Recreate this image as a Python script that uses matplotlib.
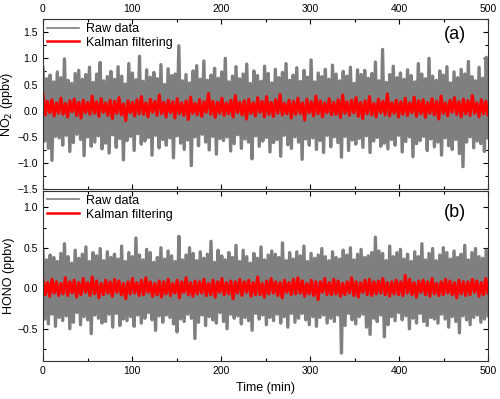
import numpy as np
import matplotlib
matplotlib.use("Agg")
import matplotlib.pyplot as plt
from matplotlib.ticker import MultipleLocator

plt.rcParams['font.family'] = ['Liberation Sans', 'DejaVu Sans']

no2_raw = [
    0.82, -0.58, 0.61, -0.72, 0.68, -0.95, 0.55, -0.49, 0.74, -0.52,
    0.63, -0.66, 0.99, -0.47, 0.58, -0.78, 0.52, -0.61, 0.71, -0.45,
    0.77, -0.55, 0.60, -0.86, 0.69, -0.50, 0.83, -0.68, 0.54, -0.60,
    0.70, -0.48, 0.92, -0.73, 0.57, -0.62, 0.65, -0.81, 0.75, -0.46,
    0.60, -0.70, 0.84, -0.53, 0.66, -0.94, 0.51, -0.57, 0.90, -0.49,
    0.72, -0.76, 0.59, -0.44, 1.04, -0.64, 0.56, -0.58, 0.78, -0.51,
    0.64, -0.85, 0.73, -0.47, 0.61, -0.71, 0.88, -0.55, 0.50, -0.66,
    0.80, -0.52, 0.67, -0.90, 0.70, -0.48, 1.24, -0.62, 0.57, -0.74,
    0.69, -0.56, 0.53, -1.05, 0.76, -0.50, 0.86, -0.67, 0.60, -0.45,
    0.95, -0.60, 0.58, -0.75, 0.68, -0.49, 0.81, -0.83, 0.62, -0.53,
    0.74, -0.57, 1.00, -0.50, 0.55, -0.77, 0.66, -0.63, 0.84, -0.46,
    0.61, -0.72, 0.70, -0.54, 0.89, -0.60, 0.52, -0.92, 0.76, -0.48,
    0.67, -0.68, 0.56, -0.58, 0.85, -0.51, 0.71, -0.79, 0.53, -0.61,
    0.79, -0.55, 0.63, -0.87, 0.73, -0.47, 0.90, -0.65, 0.58, -0.72,
    0.68, -0.50, 0.82, -0.60, 0.56, -0.93, 0.77, -0.54, 0.64, -0.66,
    0.97, -0.52, 0.55, -0.74, 0.72, -0.57, 0.65, -0.80, 0.79, -0.47,
    0.60, -0.69, 0.87, -0.50, 0.70, -0.61, 0.57, -0.89, 0.75, -0.49,
    0.66, -0.76, 0.83, -0.56, 0.52, -0.64, 0.78, -0.53, 0.69, -0.70,
    0.77, -0.48, 0.62, -0.80, 0.71, -0.58, 0.93, -0.51, 0.57, -0.68,
    1.17, -0.62, 0.54, -0.73, 0.69, -0.55, 0.85, -0.66, 0.63, -0.47,
    0.72, -0.79, 0.60, -0.59, 0.78, -0.50, 0.67, -0.88, 0.55, -0.63,
    0.90, -0.57, 0.70, -0.49, 0.61, -0.76, 1.00, -0.54, 0.66, -0.69,
    0.58, -0.60, 0.76, -0.85, 0.68, -0.52, 0.84, -0.67, 0.53, -0.74,
    0.74, -0.55, 0.63, -0.82, 0.79, -1.07, 0.70, -0.60, 0.94, -0.50,
    0.65, -0.71, 0.57, -0.58, 0.83, -0.63, 0.62, -0.78, 1.02, -0.52,
]

no2_kalman = [
    0.32, -0.08, 0.18, -0.04, 0.21, -0.10, 0.15, -0.05, 0.24, -0.07,
    0.14, -0.12, 0.19, -0.02, 0.22, -0.09, 0.16, -0.14, 0.20, -0.04,
    0.16, -0.07, 0.28, -0.05, 0.17, -0.11, 0.23, -0.03, 0.15, -0.09,
    0.20, -0.15, 0.18, -0.05, 0.25, -0.08, 0.13, -0.19, 0.19, -0.04,
    0.16, -0.10, 0.21, -0.06, 0.27, -0.07, 0.15, -0.12, 0.22, -0.03,
    0.18, -0.09, 0.30, -0.06, 0.16, -0.12, 0.20, -0.04, 0.17, -0.14,
    0.23, -0.06, 0.15, -0.09, 0.19, -0.17, 0.26, -0.05, 0.14, -0.08,
    0.21, -0.11, 0.17, -0.03, 0.33, -0.07, 0.18, -0.13, 0.16, -0.05,
    0.24, -0.09, 0.15, -0.06, 0.20, -0.12, 0.29, -0.04, 0.16, -0.08,
    0.19, -0.16, 0.22, -0.05, 0.15, -0.10, 0.25, -0.03, 0.18, -0.12,
    0.27, -0.07, 0.16, -0.11, 0.21, -0.05, 0.31, -0.08, 0.14, -0.06,
    0.20, -0.14, 0.18, -0.07, 0.24, -0.05, 0.15, -0.18, 0.22, -0.04,
    0.17, -0.10, 0.28, -0.06, 0.19, -0.12, 0.15, -0.04, 0.23, -0.08,
    0.16, -0.07, 0.21, -0.13, 0.30, -0.05, 0.17, -0.09, 0.20, -0.04,
    0.25, -0.11, 0.16, -0.15, 0.19, -0.06, 0.27, -0.08, 0.14, -0.12,
    0.22, -0.04, 0.18, -0.08, 0.32, -0.10, 0.15, -0.05, 0.20, -0.12,
    0.17, -0.07, 0.24, -0.09, 0.15, -0.04, 0.26, -0.11, 0.19, -0.06,
    0.21, -0.13, 0.16, -0.05, 0.23, -0.08, 0.18, -0.16, 0.28, -0.05,
    0.15, -0.10, 0.20, -0.03, 0.25, -0.07, 0.17, -0.12, 0.22, -0.06,
    0.19, -0.09, 0.29, -0.05, 0.15, -0.12, 0.21, -0.06, 0.18, -0.08,
]

hono_raw = [
    0.46, -0.38, 0.35, -0.44, 0.41, -0.32, 0.38, -0.47, 0.33, -0.36,
    0.43, -0.40, 0.55, -0.34, 0.39, -0.50, 0.31, -0.42, 0.47, -0.30,
    0.37, -0.45, 0.42, -0.35, 0.51, -0.39, 0.33, -0.56, 0.44, -0.33,
    0.40, -0.37, 0.49, -0.43, 0.34, -0.41, 0.45, -0.32, 0.38, -0.48,
    0.42, -0.31, 0.36, -0.46, 0.52, -0.38, 0.33, -0.40, 0.44, -0.35,
    0.39, -0.47, 0.62, -0.33, 0.41, -0.43, 0.35, -0.37, 0.48, -0.30,
    0.44, -0.39, 0.32, -0.52, 0.38, -0.34, 0.50, -0.42, 0.36, -0.33,
    0.46, -0.36, 0.40, -0.44, 0.33, -0.54, 0.64, -0.38, 0.35, -0.41,
    0.41, -0.32, 0.50, -0.37, 0.43, -0.62, 0.34, -0.42, 0.45, -0.33,
    0.37, -0.46, 0.42, -0.35, 0.58, -0.39, 0.32, -0.43, 0.47, -0.30,
    0.40, -0.41, 0.35, -0.50, 0.44, -0.32, 0.38, -0.37, 0.53, -0.34,
    0.33, -0.44, 0.47, -0.36, 0.39, -0.40, 0.31, -0.52, 0.43, -0.31,
    0.37, -0.38, 0.51, -0.33, 0.35, -0.45, 0.41, -0.36, 0.46, -0.40,
    0.42, -0.32, 0.38, -0.43, 0.56, -0.35, 0.34, -0.48, 0.44, -0.31,
    0.36, -0.42, 0.45, -0.37, 0.40, -0.31, 0.52, -0.39, 0.33, -0.45,
    0.43, -0.35, 0.37, -0.47, 0.41, -0.36, 0.49, -0.33, 0.39, -0.43,
    0.34, -0.37, 0.45, -0.41, 0.38, -0.33, 0.36, -0.80, 0.47, -0.46,
    0.41, -0.31, 0.50, -0.39, 0.35, -0.44, 0.42, -0.35, 0.48, -0.32,
    0.38, -0.48, 0.40, -0.57, 0.44, -0.37, 0.63, -0.41, 0.46, -0.33,
    0.43, -0.60, 0.34, -0.45, 0.52, -0.35, 0.39, -0.40, 0.44, -0.30,
    0.48, -0.39, 0.36, -0.34, 0.42, -0.50, 0.33, -0.37, 0.45, -0.43,
    0.39, -0.31, 0.55, -0.41, 0.35, -0.46, 0.43, -0.36, 0.49, -0.38,
    0.34, -0.43, 0.41, -0.32, 0.50, -0.38, 0.44, -0.48, 0.36, -0.35,
    0.46, -0.41, 0.38, -0.55, 0.42, -0.34, 0.53, -0.39, 0.35, -0.45,
    0.44, -0.36, 0.49, -0.33, 0.39, -0.42, 0.37, -0.38, 0.47, -0.34,
]

hono_kalman = [
    0.10, -0.08, 0.07, -0.10, 0.11, -0.06, 0.08, -0.09, 0.06, -0.07,
    0.13, -0.09, 0.08, -0.06, 0.10, -0.11, 0.07, -0.08, 0.12, -0.05,
    0.07, -0.09, 0.14, -0.07, 0.09, -0.12, 0.06, -0.08, 0.10, -0.06,
    0.08, -0.10, 0.11, -0.05, 0.09, -0.08, 0.06, -0.13, 0.08, -0.07,
    0.12, -0.06, 0.07, -0.09, 0.10, -0.08, 0.13, -0.05, 0.08, -0.10,
    0.06, -0.08, 0.09, -0.11, 0.08, -0.07, 0.11, -0.09, 0.06, -0.06,
    0.10, -0.12, 0.08, -0.05, 0.13, -0.08, 0.07, -0.10, 0.09, -0.07,
    0.08, -0.06, 0.11, -0.09, 0.06, -0.08, 0.10, -0.11, 0.08, -0.05,
    0.12, -0.08, 0.07, -0.07, 0.09, -0.13, 0.08, -0.06, 0.11, -0.09,
    0.08, -0.05, 0.10, -0.10, 0.07, -0.08, 0.14, -0.08, 0.06, -0.11,
    0.09, -0.07, 0.12, -0.06, 0.08, -0.09, 0.07, -0.12, 0.10, -0.05,
    0.07, -0.08, 0.11, -0.07, 0.13, -0.06, 0.09, -0.10, 0.06, -0.07,
    0.10, -0.09, 0.08, -0.14, 0.08, -0.05, 0.12, -0.08, 0.07, -0.08,
    0.11, -0.07, 0.09, -0.10, 0.06, -0.08, 0.08, -0.06, 0.13, -0.09,
    0.08, -0.11, 0.07, -0.05, 0.10, -0.08, 0.11, -0.09, 0.08, -0.07,
    0.09, -0.06, 0.12, -0.08, 0.07, -0.10, 0.08, -0.07, 0.10, -0.08,
    0.08, -0.09, 0.16, -0.06, 0.11, -0.08, 0.07, -0.11, 0.09, -0.05,
    0.10, -0.08, 0.08, -0.10, 0.12, -0.07, 0.06, -0.09, 0.08, -0.08,
    0.11, -0.06, 0.09, -0.08, 0.07, -0.12, 0.10, -0.07, 0.08, -0.09,
    0.08, -0.08, 0.11, -0.05, 0.09, -0.10, 0.07, -0.08, 0.12, -0.06,
]

t_start, t_end = 0, 500
raw_color = '#7f7f7f'
kal_color = '#ff0000'

fig = plt.figure(figsize=(5.0, 3.99), dpi=100)
ax1 = fig.add_axes([0.086, 0.526, 0.89, 0.426])
ax2 = fig.add_axes([0.086, 0.095, 0.89, 0.426])

def draw(ax, raw, kal, ylim, major, label, tag, tag_y):
    t_raw = np.linspace(t_start, t_end, len(raw))
    t_kal = np.linspace(t_start, t_end, len(kal))
    ax.plot(t_raw, raw, color=raw_color, lw=2.4, label='Raw data')
    ax.plot(t_kal, kal, color=kal_color, lw=2.2, label='Kalman filtering')
    ax.set_xlim(t_start, t_end)
    ax.set_ylim(*ylim)
    ax.xaxis.set_major_locator(MultipleLocator(100))
    ax.xaxis.set_minor_locator(MultipleLocator(50))
    ax.yaxis.set_major_locator(MultipleLocator(major))
    ax.yaxis.set_minor_locator(MultipleLocator(major / 2))
    ax.tick_params(which='both', direction='in', top=True, right=True,
                   labelsize=7.5, width=0.8)
    ax.tick_params(which='major', length=3.5)
    ax.tick_params(which='minor', length=2)
    for s in ax.spines.values():
        s.set_linewidth(0.8)
        s.set_color('#333333')
    ax.set_ylabel(label, fontsize=9, labelpad=2)
    leg = ax.legend(loc='upper left', frameon=False, fontsize=9,
                    handlelength=2.6, handletextpad=0.5, borderaxespad=0.1,
                    labelspacing=0.15, borderpad=0.2)
    leg.get_lines()[0].set_linewidth(1.2)
    leg.get_lines()[1].set_linewidth(1.8)
    ax.text(0.925, tag_y, tag, transform=ax.transAxes, fontsize=13,
            ha='center', va='center')

draw(ax1, no2_raw, no2_kalman, (-1.5, 1.75), 0.5, 'NO$_2$ (ppbv)', '(a)', 0.91)
draw(ax2, hono_raw, hono_kalman, (-0.9, 1.2), 0.5, 'HONO (ppbv)', '(b)', 0.875)

ax1.tick_params(labelbottom=False, labeltop=True)
ax2.set_xlabel('Time (min)', fontsize=9, labelpad=4)

fig.savefig('out.png', dpi=100)
